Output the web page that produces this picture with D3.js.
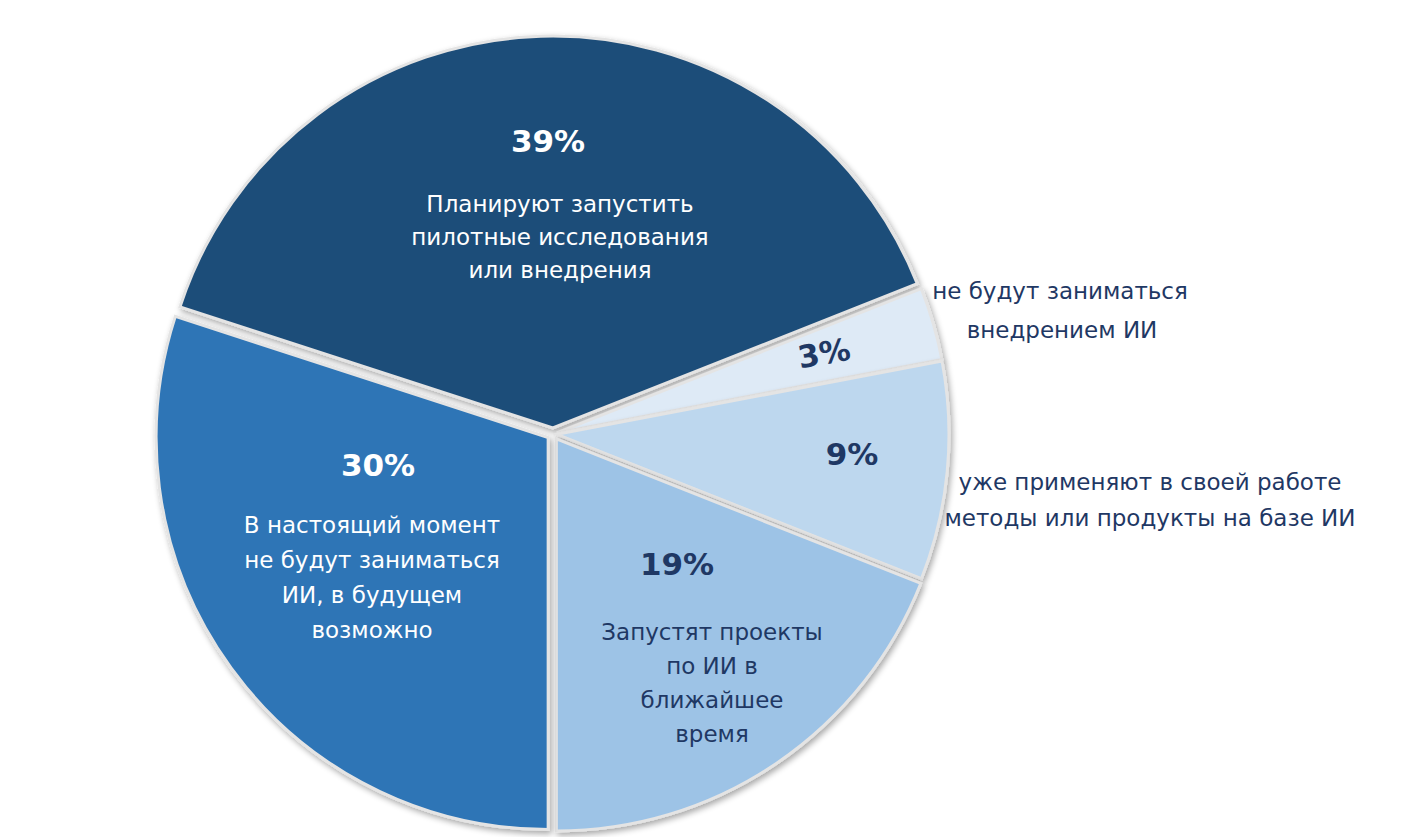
<!DOCTYPE html>
<html><head><meta charset="utf-8">
<script src="https://cdn.jsdelivr.net/npm/d3@7"></script>
<style>body{margin:0;background:#fff}text{font-family:"DejaVu Sans",Verdana,sans-serif}</style>
</head><body>
<svg id="chart" width="1414" height="837"></svg>
<script>
var labels = ["39%", "3%", "9%", "19%", "30%"];
var values = [39, 3, 9, 19, 30];
var colors = ["#1f4e79", "#deeaf6", "#bdd7ee", "#9dc3e6", "#2e75b6"];
var texts = [
    ["Планируют запустить", "пилотные исследования", "или внедрения"],
    [], [],
    ["Запустят проекты", "по ИИ в", "ближайшее", "время"],
    ["В настоящий момент", "не будут заниматься", "ИИ, в будущем", "возможно"]
];
var outside = [
    ["не будут заниматься", "внедрением ИИ"],
    ["уже применяют в своей работе", "методы или продукты на базе ИИ"]
];

var svg = d3.select("#chart");
var cx = 553, cy = 434, r = 392;

var defs = svg.append("defs");
var f = defs.append("filter").attr("id", "sh").attr("x", "-10%").attr("y", "-10%").attr("width", "120%").attr("height", "120%");
f.append("feGaussianBlur").attr("in", "SourceAlpha").attr("stdDeviation", 3);
f.append("feOffset").attr("dx", 2).attr("dy", 3).attr("result", "b");
f.append("feComponentTransfer").append("feFuncA").attr("type", "linear").attr("slope", 0.35);
var m = f.append("feMerge");
m.append("feMergeNode");
m.append("feMergeNode").attr("in", "SourceGraphic");

var pie = d3.pie().sort(null).startAngle(-72 * Math.PI / 180).endAngle(288 * Math.PI / 180);
var arc = d3.arc().innerRadius(0).outerRadius(r);
var arcs = pie(values);
var explode = [6, 4, 4, 6, 6];

var g = svg.append("g").attr("transform", "translate(" + cx + "," + cy + ")");
g.selectAll("path").data(arcs).join("path")
    .attr("d", arc)
    .attr("fill", function (d, i) { return colors[i]; })
    .attr("stroke", "#e4e4e4")
    .attr("stroke-width", 3)
    .attr("filter", "url(#sh)")
    .attr("transform", function (d, i) {
        var a = (d.startAngle + d.endAngle) / 2;
        return "translate(" + Math.sin(a) * explode[i] + "," + (-Math.cos(a) * explode[i]) + ")";
    });

// label anchors
var pctPos = [[548, 152], [826, 364], [852, 465], [677, 575], [378, 476]];
var textPos = [[560, 212], null, null, [712, 640], [372, 533]];
var textStep = [33, 0, 0, 34, 35];
var dark = ["#fff", "#1f3864", "#1f3864", "#1f3864", "#fff"];

pctPos.forEach(function (p, i) {
    var t = svg.append("text").attr("x", p[0]).attr("y", p[1])
        .attr("text-anchor", "middle").attr("font-size", 31).attr("font-weight", "bold")
        .attr("fill", dark[i]).text(labels[i]);
    if (i === 1) t.attr("transform", "rotate(-10," + p[0] + "," + p[1] + ")");
    if (textPos[i]) {
        texts[i].forEach(function (s, j) {
            svg.append("text").attr("x", textPos[i][0]).attr("y", textPos[i][1] + j * textStep[i])
                .attr("text-anchor", "middle").attr("font-size", 23)
                .attr("fill", dark[i]).text(s);
        });
    }
});

var outPos = [[[1060, 299], [1062, 338]], [[1150, 490], [1150, 526]]];
outside.forEach(function (lines, i) {
    lines.forEach(function (s, j) {
        svg.append("text").attr("x", outPos[i][j][0]).attr("y", outPos[i][j][1])
            .attr("text-anchor", "middle").attr("font-size", 23)
            .attr("fill", "#1f3864").text(s);
    });
});
</script>
</body></html>
